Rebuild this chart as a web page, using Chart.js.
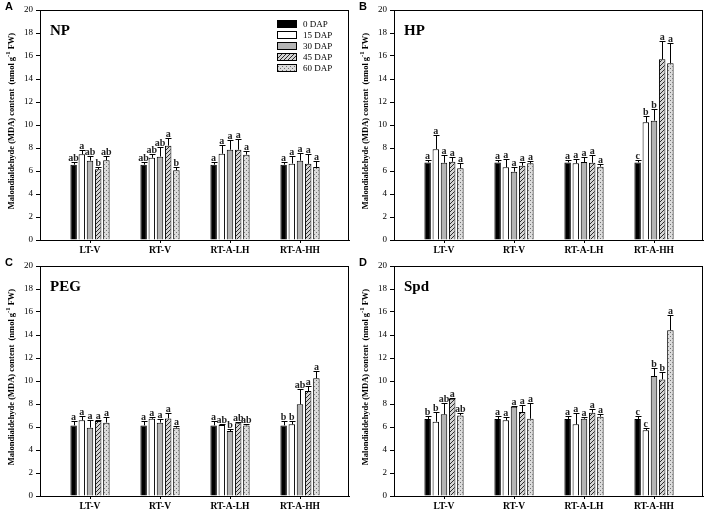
<!DOCTYPE html>
<html>
<head>
<meta charset="utf-8">
<script src="https://cdn.jsdelivr.net/npm/chart.js@4.4.0/dist/chart.umd.min.js"></script>
<style>
  html, body { margin: 0; padding: 0; background: #fff; }
  #wrap { position: relative; width: 708px; height: 515px; }
  .panel { position: absolute; width: 354px; height: 256px; }
</style>
</head>
<body>
<div id="wrap">
  <div class="panel" style="left:0;top:0"><canvas id="panelA" width="354" height="256"></canvas></div>
  <div class="panel" style="left:354px;top:0"><canvas id="panelB" width="354" height="256"></canvas></div>
  <div class="panel" style="left:0;top:256px"><canvas id="panelC" width="354" height="256"></canvas></div>
  <div class="panel" style="left:354px;top:256px"><canvas id="panelD" width="354" height="256"></canvas></div>
</div>
<script>
// ========== DATA ==========
const categories = ["LT-V", "RT-V", "RT-A-LH", "RT-A-HH"];
const seriesNames = ["0 DAP", "15 DAP", "30 DAP", "45 DAP", "60 DAP"];
const yTicks = [0, 2, 4, 6, 8, 10, 12, 14, 16, 18, 20];

// one row per series (0..60 DAP), one column per category
const npMeans = [
  [6.55, 6.55, 6.55, 6.55],
  [7.45, 7.15, 7.5, 6.64],
  [6.9, 7.25, 7.85, 6.9],
  [6.15, 8.2, 7.85, 6.62],
  [6.93, 6.06, 7.42, 6.35]
];
const npErrors = [
  [0.2, 0.2, 0.2, 0.2],
  [0.4, 0.35, 0.8, 0.65],
  [0.4, 0.85, 0.85, 0.7],
  [0.2, 0.7, 0.9, 0.85],
  [0.4, 0.3, 0.28, 0.5]
];
const npLetters = [
  ["ab", "ab", "a", "a"],
  ["a", "ab", "a", "a"],
  ["ab", "ab", "a", "a"],
  ["b", "a", "a", "a"],
  ["ab", "b", "a", "a"]
];

const hpMeans = [
  [6.75, 6.75, 6.75, 6.75],
  [7.9, 6.32, 6.67, 10.23],
  [6.72, 5.94, 6.78, 10.38],
  [6.8, 6.46, 6.72, 15.71],
  [6.23, 6.67, 6.38, 15.36]
];
const hpErrors = [
  [0.2, 0.2, 0.2, 0.2],
  [1.2, 0.7, 0.35, 0.55],
  [0.7, 0.45, 0.45, 1.05],
  [0.45, 0.35, 0.65, 1.6],
  [0.5, 0.2, 0.25, 1.8]
];
const hpLetters = [
  ["a", "a", "a", "c"],
  ["a", "a", "a", "b"],
  ["a", "a", "a", "b"],
  ["a", "a", "a", "a"],
  ["a", "a", "a", "a"]
];

const pegMeans = [
  [6.14, 6.14, 6.14, 6.14],
  [6.58, 6.72, 6.17, 6.23],
  [5.94, 6.38, 5.65, 7.97],
  [6.52, 6.75, 6.32, 9.13],
  [6.38, 5.94, 6.14, 10.23]
];
const pegErrors = [
  [0.35, 0.35, 0.35, 0.35],
  [0.38, 0.15, 0.12, 0.3],
  [0.67, 0.34, 0.18, 1.36],
  [0.06, 0.5, 0.11, 0.44],
  [0.52, 0.15, 0.09, 0.64]
];
const pegLetters = [
  ["a", "a", "a", "b"],
  ["a", "a", "ab", "b"],
  ["a", "a", "b", "ab"],
  ["a", "a", "ab", "a"],
  ["a", "a", "ab", "a"]
];

const spdMeans = [
  [6.7, 6.7, 6.7, 6.7],
  [6.46, 6.58, 6.23, 5.71],
  [7.1, 7.77, 6.72, 10.43],
  [8.46, 7.3, 7.25, 10.14],
  [7.01, 6.72, 6.9, 14.41]
];
const spdErrors = [
  [0.3, 0.3, 0.3, 0.3],
  [0.84, 0.32, 0.96, 0.17],
  [0.96, 0.06, 0.15, 0.67],
  [0.09, 0.58, 0.29, 0.67],
  [0.18, 1.34, 0.2, 1.33]
];
const spdLetters = [
  ["b", "a", "a", "c"],
  ["b", "a", "a", "c"],
  ["ab", "a", "a", "b"],
  ["a", "a", "a", "b"],
  ["ab", "a", "a", "a"]
];

// ========== STYLE HELPERS ==========
const SERIF = "'Liberation Serif', 'Times New Roman', serif";
const SANS = "'Liberation Sans', Arial, sans-serif";

function makeHatch(ctx) {
  const c = document.createElement("canvas");
  c.width = 4; c.height = 4;
  const g = c.getContext("2d");
  g.fillStyle = "#d4d4d4";
  g.fillRect(0, 0, 4, 4);
  g.strokeStyle = "#2a2a2a";
  g.lineWidth = 1;
  g.beginPath();
  g.moveTo(0, 4); g.lineTo(4, 0);
  g.moveTo(-1, 1); g.lineTo(1, -1);
  g.moveTo(3, 5); g.lineTo(5, 3);
  g.stroke();
  return ctx.createPattern(c, "repeat");
}

function makeDots(ctx) {
  const c = document.createElement("canvas");
  c.width = 4; c.height = 4;
  const g = c.getContext("2d");
  g.fillStyle = "#dcdcdc";
  g.fillRect(0, 0, 4, 4);
  g.fillStyle = "#707070";
  g.fillRect(0, 0, 1, 1);
  g.fillRect(2, 2, 1, 1);
  return ctx.createPattern(c, "repeat");
}

function seriesFills(ctx) {
  return ["#000000", "#ffffff", "#b4b4b4", makeHatch(ctx), makeDots(ctx)];
}

// ========== DECORATION PLUGIN (frame, error bars, letters, titles, legend) ==========
const panelDecor = {
  id: "panelDecor",
  afterDatasetsDraw(chart, args, opts) {
    const ctx = chart.ctx;
    const y = chart.scales.y;
    const area = chart.chartArea;
    ctx.save();

    // frame
    ctx.strokeStyle = "#000";
    ctx.lineWidth = 1;
    ctx.strokeRect(Math.round(area.left) + 0.5, Math.round(area.top) + 0.5,
      Math.round(area.right - area.left) - 1, Math.round(area.bottom - area.top));

    // error bars + letters
    ctx.font = "bold 10px " + SERIF;
    ctx.textAlign = "center";
    ctx.textBaseline = "alphabetic";
    chart.data.datasets.forEach((ds, di) => {
      const meta = chart.getDatasetMeta(di);
      meta.data.forEach((bar, i) => {
        const top = Math.round(y.getPixelForValue(opts.means[di][i] + opts.errors[di][i])) + 0.5;
        const x = Math.round(bar.x) + 0.5;
        ctx.beginPath();
        ctx.moveTo(x, bar.y);
        ctx.lineTo(x, top);
        ctx.moveTo(x - 3, top);
        ctx.lineTo(x + 3, top);
        ctx.strokeStyle = "#000";
        ctx.stroke();
        ctx.fillStyle = "#222";
        ctx.fillText(opts.letters[di][i], bar.x, top - 2);
      });
    });

    // panel title inside plot
    ctx.textAlign = "left";
    ctx.fillStyle = "#000";
    ctx.font = "bold 15px " + SERIF;
    ctx.fillText(opts.title, area.left + 10, area.top + 25);

    // panel tag
    ctx.font = "bold 11px " + SANS;
    ctx.fillText(opts.tag, 5, 10);

    // y axis title with superscript
    ctx.save();
    ctx.translate(12, (area.top + area.bottom) / 2 - 4);
    ctx.rotate(-Math.PI / 2);
    ctx.textBaseline = "middle";
    const mainFont = "bold 8.5px " + SERIF;
    const supFont = "bold 6.5px " + SERIF;
    const partA = "Malondialdehyde (MDA) content  (nmol g";
    const partSup = "-1";
    const partB = " FW)";
    ctx.font = mainFont; const wA = ctx.measureText(partA).width; const wB = ctx.measureText(partB).width;
    ctx.font = supFont; const wS = ctx.measureText(partSup).width;
    let cx = -(wA + wS + wB) / 2;
    ctx.font = mainFont; ctx.fillText(partA, cx, 0); cx += wA;
    ctx.font = supFont; ctx.fillText(partSup, cx, -3.5); cx += wS;
    ctx.font = mainFont; ctx.fillText(partB, cx, 0);
    ctx.restore();

    // legend (panel A only)
    if (opts.legend) {
      ctx.font = "9px " + SERIF;
      ctx.textBaseline = "middle";
      chart.data.datasets.forEach((ds, di) => {
        const ly = 24 + di * 11;
        ctx.fillStyle = ds.backgroundColor;
        ctx.fillRect(277, ly - 3.5, 20, 7);
        ctx.strokeStyle = "#000";
        ctx.strokeRect(277.5, ly - 3.5, 19, 7);
        ctx.fillStyle = "#000";
        ctx.fillText(seriesNames[di], 303, ly + 0.5);
      });
    }
    ctx.restore();
  }
};

// ========== CHART BUILDER ==========
function buildPanel(canvasId, tag, title, means, errors, letters, legend) {
  const canvas = document.getElementById(canvasId);
  const ctx = canvas.getContext("2d");
  const fills = seriesFills(ctx);
  const datasets = seriesNames.map((name, si) => ({
    label: name,
    data: categories.map((c, ci) => ({ x: ci + 1, y: means[si][ci] })),
    backgroundColor: fills[si],
    borderColor: "#000",
    borderWidth: 1,
    categoryPercentage: 0.585,
    barPercentage: 0.79
  }));

  new Chart(ctx, {
    type: "bar",
    data: { datasets },
    options: {
      responsive: false,
      animation: false,
      devicePixelRatio: 1,
      layout: { padding: { top: 10, right: 5, left: 0, bottom: 0 } },
      plugins: {
        legend: { display: false },
        tooltip: { enabled: false },
        panelDecor: { tag, title, means, errors, letters, legend }
      },
      scales: {
        x: {
          type: "linear",
          offset: false,
          bounds: "data",
          min: 1 - 50 / 70,
          max: 4.7,
          afterBuildTicks: (axis) => { axis.ticks = categories.map((c, i) => ({ value: i + 1 })); },
          afterFit: (axis) => { axis.height = 16; },
          grid: { offset: false, drawOnChartArea: false, drawTicks: true, tickLength: 3, color: "#000" },
          border: { color: "#000", width: 1 },
          ticks: {
            autoSkip: false,
            maxRotation: 0,
            padding: 2,
            color: "#000",
            font: { family: SERIF, size: 9.5, weight: "bold" },
            callback: (v) => categories[v - 1] || ""
          }
        },
        y: {
          min: 0,
          max: 20,
          afterBuildTicks: (axis) => { axis.ticks = yTicks.map((v) => ({ value: v })); },
          afterFit: (axis) => { axis.width = 40; },
          grid: { drawOnChartArea: false, drawTicks: true, tickLength: 4, color: "#000" },
          border: { color: "#000", width: 1 },
          ticks: {
            padding: 3,
            color: "#000",
            font: { family: SERIF, size: 9 }
          }
        }
      }
    },
    plugins: [panelDecor]
  });
}

// ========== RENDER ==========
buildPanel("panelA", "A", "NP", npMeans, npErrors, npLetters, true);
buildPanel("panelB", "B", "HP", hpMeans, hpErrors, hpLetters, false);
buildPanel("panelC", "C", "PEG", pegMeans, pegErrors, pegLetters, false);
buildPanel("panelD", "D", "Spd", spdMeans, spdErrors, spdLetters, false);
</script>
</body>
</html>
